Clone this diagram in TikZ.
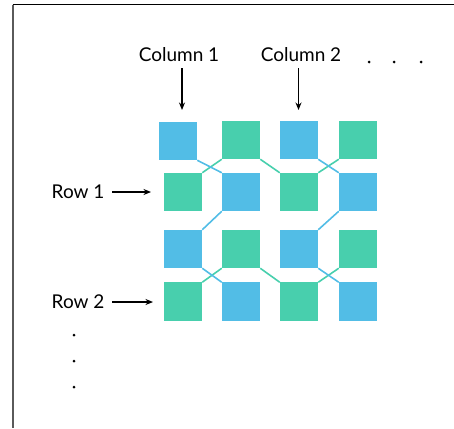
\documentclass[tikz,border=0pt]{standalone}
\usepackage{fontspec}
\setmainfont{Lato}
\usetikzlibrary{arrows.meta}
\definecolor{cellblue}{HTML}{52BDE6}
\definecolor{cellgreen}{HTML}{48CFAD}
\definecolor{framegray}{HTML}{5A5A5A}

\begin{document}
\begin{tikzpicture}[x=1pt,y=-1pt,
  cell/.style={minimum size=38.5pt, inner sep=0pt, outer sep=0pt},
  blink/.style={draw=cellblue, line width=1.6pt},
  glink/.style={draw=cellgreen, line width=1.6pt},
  caption/.style={font=\fontsize{19}{21}\selectfont, inner sep=0pt},
  pointer/.style={-{Stealth[length=7.5pt,width=6pt]}, line width=1.1pt},
  dotmark/.style={circle, fill=black, inner sep=0pt, minimum size=3pt}]
\useasboundingbox (0,0) rectangle (454,428);

% frame
\draw[black, line width=1pt] (12.5,5) -- (454,5);
\draw[framegray, line width=1.5pt] (13,5) -- (13,428);

% grid positions
\foreach \r/\y in {a/140,b/192,c/249,d/301.5}{
  \foreach \k/\x in {1/183,2/241,3/299,4/358}{
    \coordinate (p\r\k) at (\x,\y);
  }
}
\coordinate (pa1) at (178,141);

% cell placeholders
\path (pa1) node[cell] (a1) {} (pa2) node[cell] (a2) {} (pa3) node[cell] (a3) {} (pa4) node[cell] (a4) {}
      (pb1) node[cell] (b1) {} (pb2) node[cell] (b2) {} (pb3) node[cell] (b3) {} (pb4) node[cell] (b4) {}
      (pc1) node[cell] (c1) {} (pc2) node[cell] (c2) {} (pc3) node[cell] (c3) {} (pc4) node[cell] (c4) {}
      (pd1) node[cell] (d1) {} (pd2) node[cell] (d2) {} (pd3) node[cell] (d3) {} (pd4) node[cell] (d4) {};

% links (drawn under the cells)
\draw[glink] (b1.north east) -- (a2.south west);
\draw[blink] (a1.south east) -- (b2.north west);
\draw[glink] (a2.south east) -- (b3.north west);
\draw[glink] (b3.north east) -- (a4.south west);
\draw[blink] (a3.south east) -- (b4.north west);

\draw[blink] (b2.south west) -- (c1.north east);
\draw[blink] (b4.south west) -- (c3.north east);

\draw[glink] (d1.north east) -- (c2.south west);
\draw[blink] (c1.south east) -- (d2.north west);
\draw[glink] (c2.south east) -- (d3.north west);
\draw[glink] (d3.north east) -- (c4.south west);
\draw[blink] (c3.south east) -- (d4.north west);

% cells
\foreach \n in {a1,a3,b2,b4,c1,c3,d2,d4}{\fill[cellblue] (\n.south west) rectangle (\n.north east);}
\foreach \n in {a2,a4,b1,b3,c2,c4,d1,d3}{\fill[cellgreen] (\n.south west) rectangle (\n.north east);}

% column labels and pointers
\node[caption, anchor=base] (col1) at (179,61) {Column 1};
\node[caption, anchor=base] (col2) at (301,61) {Column 2};
\coordinate (col1s) at (182,68);
\coordinate (col1e) at (182,110);
\coordinate (col2s) at (298.5,68);
\coordinate (col2e) at (298.5,110);
\draw[pointer] (col1s) -- (col1e);
\draw[pointer] (col2s) -- (col2e);

% row labels and pointers
\node[caption, anchor=base west] (row1) at (51.5,198.5) {Row 1};
\node[caption, anchor=base west] (row2) at (51.5,308.5) {Row 2};
\coordinate (row1s) at (112,192);
\coordinate (row1e) at (151,192);
\coordinate (row2s) at (112,302);
\coordinate (row2e) at (153,302);
\draw[pointer] (row1s) -- (row1e);
\draw[pointer] (row2s) -- (row2e);

% continuation dots
\node[dotmark] (h1) at (369,62) {};
\node[dotmark] (h2) at (394,62) {};
\node[dotmark] (h3) at (421,62) {};
\node[dotmark] (v1) at (74,335) {};
\node[dotmark] (v2) at (74,361) {};
\node[dotmark] (v3) at (74,387) {};
\end{tikzpicture}
\end{document}
